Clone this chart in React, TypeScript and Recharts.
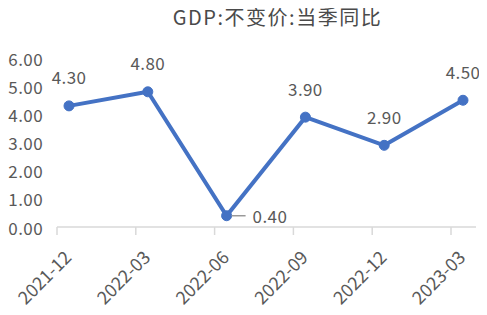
import { LineChart, Line, XAxis, YAxis, LabelList } from "recharts";

const quarters = ["2021-12", "2022-03", "2022-06", "2022-09", "2022-12", "2023-03"];
const gdpYoY = [4.3, 4.8, 0.4, 3.9, 2.9, 4.5];
const yTicks = [0, 1, 2, 3, 4, 5, 6];

const data = quarters.map((q, i) => ({ quarter: q, value: gdpYoY[i] }));

const FONT = "'Noto Sans CJK SC', 'Noto Sans', sans-serif";
const TEXT = "#595959";
const BLUE = "#4472C4";
const GRID = "#d9d9d9";

const XTick = (props: any) => {
  const { x, y, payload } = props;
  const ax = x - 2;
  const ay = y + 18;
  return (
    <g>
      <line x1={x - 12} x2={x - 12} y1={y - 8} y2={y} stroke={GRID} strokeWidth={1.5} />
      <text
        x={ax}
        y={ay}
        transform={`rotate(-45 ${ax} ${ay})`}
        textAnchor="end"
        dominantBaseline="central"
        fontSize={18}
        fill={TEXT}
        fontFamily={FONT}
      >
        {payload.value}
      </text>
    </g>
  );
};

const YTick = (props: any) => {
  const { y, payload } = props;
  return (
    <text x={43} y={y} textAnchor="end" dominantBaseline="central" fontSize={17} fill={TEXT} fontFamily={FONT} letterSpacing={0.4}>
      {Number(payload.value).toFixed(2)}
    </text>
  );
};

const PointLabel = (props: any) => {
  const { x, y, value } = props;
  const text = Number(value).toFixed(2);
  if (value < 1) {
    return (
      <g>
        <line x1={x + 5} x2={x + 19} y1={y} y2={y} stroke="#999" strokeWidth={1.5} />
        <text x={x + 26} y={y} dominantBaseline="central" fontSize={17} fill={TEXT} fontFamily={FONT} letterSpacing={0.4}>
          {text}
        </text>
      </g>
    );
  }
  return (
    <text x={x} y={y - 29} textAnchor="middle" dominantBaseline="central" fontSize={17} fill={TEXT} fontFamily={FONT} letterSpacing={0.4}>
      {text}
    </text>
  );
};

export default function App() {
  return (
    <div style={{ width: 487, height: 315, margin: -8, position: "relative", background: "#fff" }}>
      <div
        style={{
          position: "absolute",
          top: 2,
          left: 0,
          width: 487,
          textAlign: "center",
          fontFamily: FONT,
          fontSize: 20,
          letterSpacing: 1.5,
          color: "#4a4a4a",
          paddingLeft: 68,
          boxSizing: "border-box",
        }}
      >
        GDP:不变价:当季同比
      </div>
      <LineChart width={487} height={315} data={data} margin={{ top: 58, right: 11, bottom: 0, left: 0 }}>
        <XAxis
          dataKey="quarter"
          interval={0}
          padding={{ left: 12, right: 13 }}
          tickLine={false}
          axisLine={{ stroke: GRID, strokeWidth: 1.5 }}
          tick={<XTick />}
          height={88}
        />
        <YAxis
          domain={[0, 6]}
          ticks={yTicks}
          width={57}
          axisLine={false}
          tickLine={false}
          tick={<YTick />}
        />
        <Line
          dataKey="value"
          stroke={BLUE}
          strokeWidth={4}
          dot={{ r: 5, fill: BLUE, stroke: BLUE, strokeWidth: 1 }}
          isAnimationActive={false}
        >
          <LabelList dataKey="value" content={<PointLabel />} />
        </Line>
      </LineChart>
    </div>
  );
}
